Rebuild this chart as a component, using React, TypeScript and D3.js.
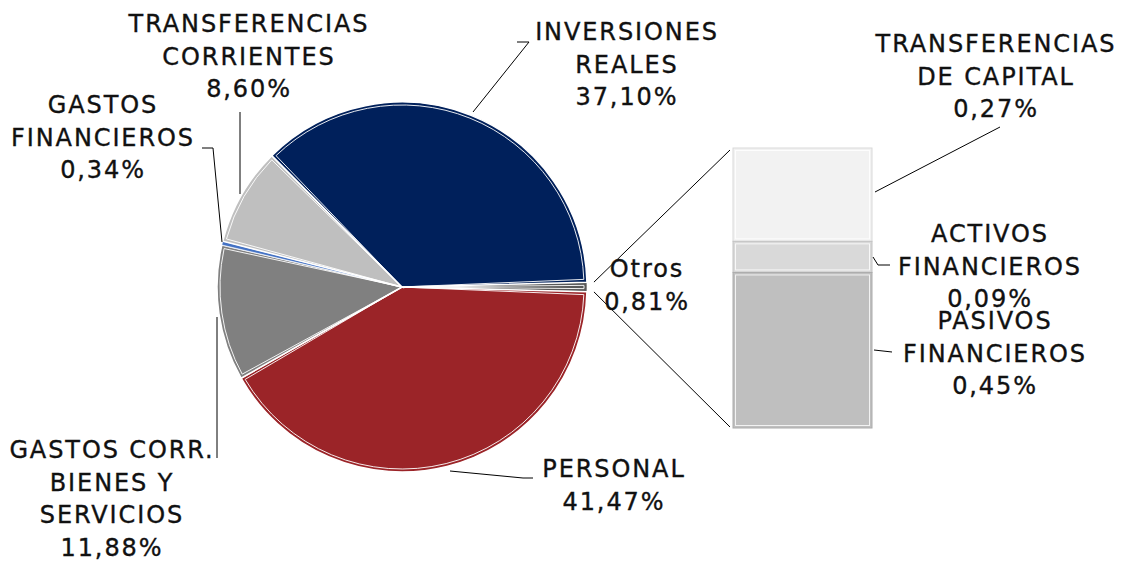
import * as d3 from "d3";

// pie slices, clockwise from the "Otros" slice at 3 o'clock
const pieCategories = ["Otros", "PERSONAL", "GASTOS CORR. BIENES Y SERVICIOS", "GASTOS FINANCIEROS", "TRANSFERENCIAS CORRIENTES", "INVERSIONES REALES"];
const pieValues = [0.81, 41.47, 11.88, 0.34, 8.6, 37.1];
const pieColors = ["#595959", "#9B2428", "#808080", "#4472C4", "#BFBFBF", "#00205B"];

// breakdown of "Otros", top to bottom
const barCategories = ["TRANSFERENCIAS DE CAPITAL", "ACTIVOS FINANCIEROS", "PASIVOS FINANCIEROS"];
const barValues = [0.27, 0.09, 0.45];
const barColors = ["#F2F2F2", "#D9D9D9", "#BFBFBF"];

const fmt = (v: number) => v.toFixed(2).replace(".", ",") + "%";

// label layout: text lines, centre x, first baseline, leader polyline
const pieLabels = [
  { lines: ["Otros"], x: 647, y: 277, leader: null },
  { lines: ["PERSONAL"], x: 614, y: 477, leader: [[533, 478], [523, 478], [450, 471]] },
  { lines: ["GASTOS CORR.", "BIENES Y", "SERVICIOS"], x: 112, y: 458, leader: [[217, 458], [217, 317]] },
  { lines: ["GASTOS", "FINANCIEROS"], x: 103, y: 113, leader: [[202, 148], [213, 148], [222, 242]] },
  { lines: ["TRANSFERENCIAS", "CORRIENTES"], x: 249, y: 32, leader: [[240, 112], [240, 194]] },
  { lines: ["INVERSIONES", "REALES"], x: 627, y: 40, leader: [[517, 42], [529, 42], [473, 112]] },
];
const barLabels = [
  { lines: ["TRANSFERENCIAS", "DE CAPITAL"], x: 996, y: 52, leader: [[875, 192], [1000, 127]] },
  { lines: ["ACTIVOS", "FINANCIEROS"], x: 990, y: 242, leader: [[873, 257], [878, 265], [890, 265]] },
  { lines: ["PASIVOS", "FINANCIEROS"], x: 995, y: 329, leader: [[874, 350], [892, 352]] },
];

const W = 1123, H = 561;
const cx = 402, cy = 287, R = 185;
const barX = 733, barW = 139, barTop = 148, barBottom = 428;
const lineH = 32.5;

function Label({ lines, value, x, y }: { lines: string[]; value: number; x: number; y: number }) {
  const all = [...lines, fmt(value)];
  return (
    <text x={x} textAnchor="middle" fontFamily="DejaVu Sans" fontSize={24} letterSpacing={1.9}
      fill="#111" stroke="#111" strokeWidth={0.35}>
      {all.map((t, i) => (
        <tspan key={i} x={x} y={y + i * lineH}>{t}</tspan>
      ))}
    </text>
  );
}

export default function App() {
  const total = d3.sum(pieValues);
  const a0 = Math.PI / 2 - (pieValues[0] / total) * Math.PI;
  const arcs = d3.pie<number>().sort(null).value((d) => d).startAngle(a0).endAngle(a0 + 2 * Math.PI)(pieValues);
  const arc = d3.arc<d3.PieArcDatum<number>>().innerRadius(0).outerRadius(R);
  const inset = d3.arc<d3.PieArcDatum<number>>().innerRadius(0).outerRadius(R - 3).padRadius(R - 3).padAngle(6 / (R - 3));

  const y = d3.scaleLinear().domain([0, d3.sum(barValues)]).range([barTop, barBottom]);
  const stacks = barValues.map((v, i) => ({ v, y0: d3.sum(barValues.slice(0, i)), y1: d3.sum(barValues.slice(0, i + 1)) }));

  const otros = arcs[0];
  const edge = (a: number, r: number) => [cx + r * Math.sin(a), cy - r * Math.cos(a)];
  const pTop = edge(otros.startAngle, R + 7);
  const pBot = edge(otros.endAngle, R + 7);

  const line = d3.line();

  return (
    <svg width={W} height={H} style={{ position: "absolute", left: 0, top: 0, background: "#fff" }}>
      <g transform={`translate(${cx},${cy})`}>
        {arcs.map((d, i) => (
          <path key={i} d={arc(d)!} fill={pieColors[i]} stroke="#fff" strokeWidth={pieValues[i] < 1 ? 0.6 : 1.5} />
        ))}
        {arcs.map((d, i) =>
          pieValues[i] < 0.5 ? null : (
            <path key={"in" + i} d={inset(d)!} fill="none" stroke="#fff" strokeWidth={1} strokeOpacity={0.9} />
          )
        )}
      </g>

      {/* connectors from "Otros" to the bar */}
      <path d={line([[pTop[0], pTop[1]], [barX - 3, barTop + 2]])!} stroke="#000" strokeWidth={1} fill="none" />
      <path d={line([[pBot[0], pBot[1]], [barX - 3, barBottom - 1]])!} stroke="#000" strokeWidth={1} fill="none" />

      {stacks.map((s, i) => (
        <g key={i}>
          <rect x={barX} y={y(s.y0)} width={barW} height={y(s.y1) - y(s.y0)} fill={barColors[i]} stroke={d3.color(barColors[i])!.darker(0.3).toString()} strokeWidth={1} />
          <rect x={barX + 2.5} y={y(s.y0) + 2.5} width={barW - 5} height={y(s.y1) - y(s.y0) - 5} fill="none" stroke="#fff" strokeWidth={1} strokeOpacity={0.8} />
        </g>
      ))}

      {pieLabels.map((l, i) => (
        <g key={i}>
          {l.leader && <path d={line(l.leader as [number, number][])!} stroke="#000" strokeWidth={1} fill="none" />}
          <Label lines={l.lines} value={pieValues[i]} x={l.x} y={l.y} />
        </g>
      ))}
      {barLabels.map((l, i) => (
        <g key={"b" + i}>
          <path d={line(l.leader as [number, number][])!} stroke="#000" strokeWidth={1} fill="none" />
          <Label lines={l.lines} value={barValues[i]} x={l.x} y={l.y} />
        </g>
      ))}
    </svg>
  );
}
